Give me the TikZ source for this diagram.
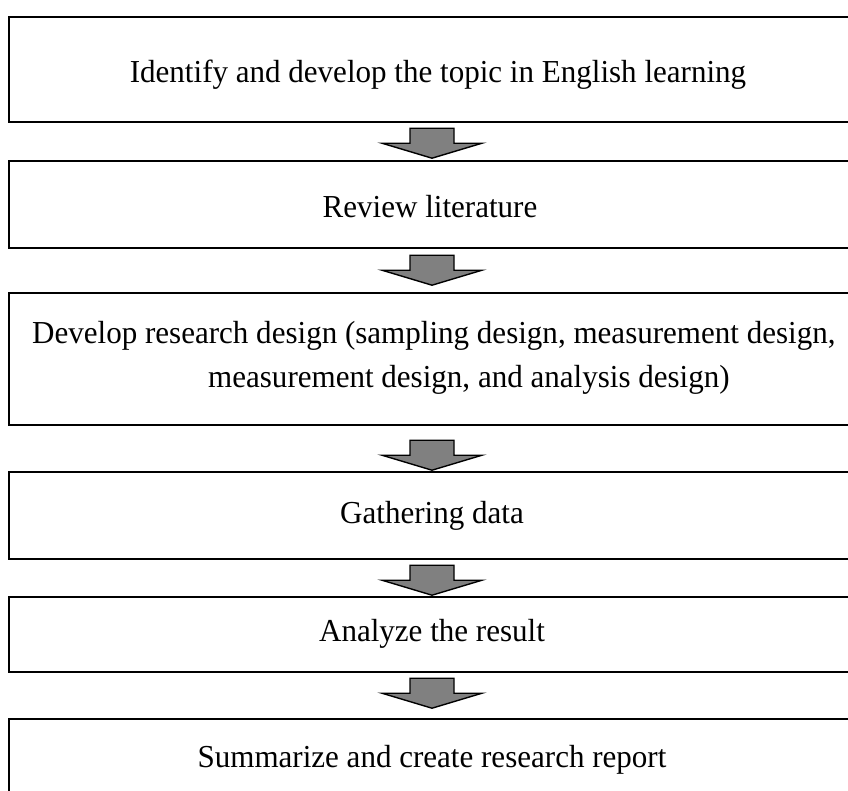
\documentclass[tikz,border=0pt]{standalone}
\usepackage{fontspec}
\setmainfont[FakeStretch=0.97]{Liberation Serif}
\usetikzlibrary{calc}
\tikzset{
  stepbox/.style={draw=black, line width=2.4pt, rectangle, inner sep=0pt,
    minimum width=851pt},
  steptext/.style={inner sep=0pt, font=\fontsize{32}{40}\selectfont},
  blockarrow/.style={draw=black, line width=1.4pt, fill=black!50, line join=miter},
}
\begin{document}
\begin{tikzpicture}[x=1pt, y=-1pt]
  \clip (0,0) rectangle (848,790);
  \fill[white] (0,0) rectangle (848,790);
  \coordinate (ax) at (432,0);

  % process steps
  \node[stepbox, minimum height=105pt] (b1) at (434.5,69.5) {};
  \node[stepbox, minimum height=87pt]  (b2) at (434.5,204.5) {};
  \node[stepbox, minimum height=132pt] (b3) at (434.5,359) {};
  \node[stepbox, minimum height=87pt]  (b4) at (434.5,515.5) {};
  \node[stepbox, minimum height=75pt]  (b5) at (434.5,634.5) {};
  \node[stepbox, minimum height=81pt]  (b6) at (434.5,759.5) {};

  % step labels
  \node[steptext] (t1) at (438,75) {Identify and develop the topic in English learning};
  \node[steptext] (t2) at (430,207) {Review literature};
  \node[steptext, anchor=west] (t3a) at (32,336) {Develop research design (sampling design, measurement design,};
  \node[steptext, anchor=west] (t3b) at (208,380) {measurement design, and analysis design)};
  \node[steptext] (t4) at (432,516) {Gathering data};
  \node[steptext] (t5) at (432,634) {Analyze the result};
  \node[steptext] (t6) at (432,760) {Summarize and create research report};

  % block arrows between consecutive steps
  \foreach \from/\gap in {b1/5, b2/6, b3/14, b4/5, b5/5}{
    \draw[blockarrow] ($(\from.south -| ax)+(0,\gap)$) ++(-22,0) -- ++(44,0) -- ++(0,15)
      -- ++(28,0) -- ++(-50,15) -- ++(-50,-15) -- ++(28,0) -- cycle;
  }
\end{tikzpicture}
\end{document}
